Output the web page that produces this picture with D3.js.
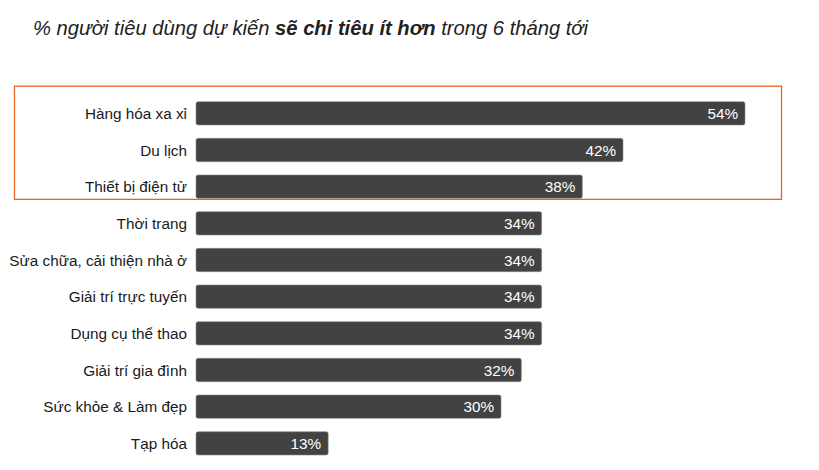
<!DOCTYPE html>
<html>
<head>
<meta charset="utf-8">
<script src="https://cdn.jsdelivr.net/npm/d3@7"></script>
<style>
	body { margin: 0; background: #fff; }
	svg { font-family: "Liberation Sans", Arial, sans-serif; }
</style>
</head>
<body>
<div id="chart"></div>
<script>
var categories = ['Hàng hóa xa xỉ', 'Du lịch', 'Thiết bị điện tử', 'Thời trang',
	'Sửa chữa, cải thiện nhà ở', 'Giải trí trực tuyến', 'Dụng cụ thể thao',
	'Giải trí gia đình', 'Sức khỏe & Làm đẹp', 'Tạp hóa'];
var values = [54, 42, 38, 34, 34, 34, 34, 32, 30, 13];
var highlighted = ['Hàng hóa xa xỉ', 'Du lịch', 'Thiết bị điện tử'];

var width = 819;
var height = 470;

var svg = d3.select('#chart')
	.append('svg')
	.attr('width', width)
	.attr('height', height);

// title, part bold
var title = svg.append('text')
	.attr('x', 33)
	.attr('y', 35)
	.style('font-size', '20.2px')
	.style('font-style', 'italic')
	.style('fill', '#222');
title.append('tspan').text('% người tiêu dùng dự kiến ');
title.append('tspan').style('font-weight', 'bold').text('sẽ chi tiêu ít hơn');
title.append('tspan').text(' trong 6 tháng tới');

var x = d3.scaleLinear()
	.domain([0, 54])
	.range([196, 745]);

var y = d3.scaleBand()
	.domain(categories)
	.range([95, 461.7])
	.paddingInner(0.364)
	.paddingOuter(0.182);

var data = categories.map(function(d, i) { return { label: d, value: values[i] }; });

var rows = svg.selectAll('.row')
	.data(data)
	.enter()
	.append('g')
	.attr('class', 'row');

rows.append('rect')
	.attr('x', x(0))
	.attr('y', function(d) { return y(d.label); })
	.attr('width', function(d) { return x(d.value) - x(0); })
	.attr('height', y.bandwidth())
	.attr('rx', 2)
	.style('fill', '#424242')
	.style('stroke', '#8a8a8a')
	.style('stroke-width', 0.6);

rows.append('text')
	.attr('x', 187)
	.attr('y', function(d) { return y(d.label) + y.bandwidth() / 2; })
	.attr('dy', '0.36em')
	.attr('text-anchor', 'end')
	.style('font-size', '15.3px')
	.style('fill', '#1a1a1a')
	.text(function(d) { return d.label; });

rows.append('text')
	.attr('x', function(d) { return x(d.value) - 7; })
	.attr('y', function(d) { return y(d.label) + y.bandwidth() / 2; })
	.attr('dy', '0.36em')
	.attr('text-anchor', 'end')
	.style('font-size', '15.3px')
	.style('fill', '#fff')
	.text(function(d) { return d.value + '%'; });

// orange box round the top three
var first = y(highlighted[0]);
var last = y(highlighted[highlighted.length - 1]) + y.bandwidth();
svg.append('rect')
	.attr('x', 14.5)
	.attr('y', first - 15.5)
	.attr('width', 767)
	.attr('height', last - first + 16.5)
	.style('fill', 'none')
	.style('stroke', '#e8631f')
	.style('stroke-width', 1.3);
</script>
</body>
</html>
